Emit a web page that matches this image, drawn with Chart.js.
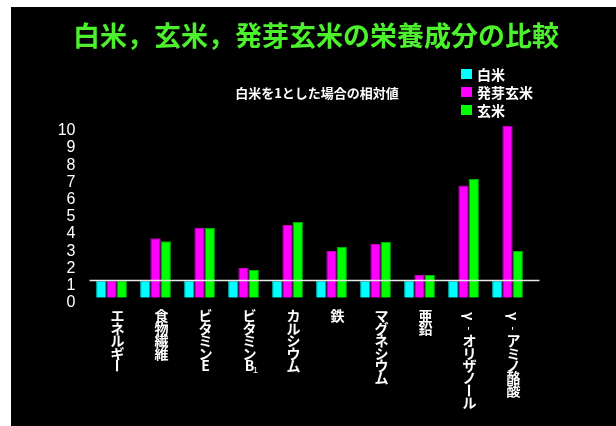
<!DOCTYPE html>
<html lang="ja">
<head>
<meta charset="UTF-8" />
<title>白米，玄米，発芽玄米の栄養成分の比較</title>
<style>
  html, body { margin: 0; padding: 0; background: #fff; }
  .wrap {
    position: absolute;
    left: 11px; top: 7px;
    width: 605px; height: 419px;
    background: #000;
  }
</style>
</head>
<body>
<div class="wrap">
  <canvas id="riceChart" width="605" height="419"></canvas>
</div>

<script src="https://cdn.jsdelivr.net/npm/chart.js"></script>
<script>
  // categories and values (白米 = 1)
  const categories = ['エネルギー', '食物繊維', 'ビタミンE', 'ビタミンB₁', 'カルシウム', '鉄', 'マグネシウム', '亜鉛', 'γ-オリザノール', 'γ-アミノ酪酸'];
  const hakumai   = [1, 1, 1, 1, 1, 1, 1, 1, 1, 1];
  const hatsuga   = [1, 3.45, 4.05, 1.73, 4.23, 2.72, 3.12, 1.32, 6.53, 10.0];
  const genmai    = [1, 3.28, 4.05, 1.61, 4.40, 2.95, 3.24, 1.32, 6.90, 2.72];
  const yTicks    = [0, 1, 2, 3, 4, 5, 6, 7, 8, 9, 10];

  const titleText = '白米，玄米，発芽玄米の栄養成分の比較';
  const subText = '白米を1とした場合の相対値';
  const jpFont = '"Noto Sans CJK JP", "Noto Sans", sans-serif';

  // title + note text, placed like the slide
  const headings = {
    id: 'headings',
    afterDraw(chart) {
      const { ctx } = chart;
      ctx.save();
      ctx.textAlign = 'center';
      ctx.textBaseline = 'middle';
      ctx.fillStyle = '#4cf02c';
      ctx.font = 'bold 27px ' + jpFont;
      ctx.fillText(titleText, 305, 29);
      ctx.fillStyle = '#fff';
      ctx.font = 'bold 13px ' + jpFont;
      ctx.fillText(subText, 306, 86);
      ctx.restore();
    }
  };

  // horizontal white line at the 白米 = 1 level
  const baseLine = {
    id: 'baseLine',
    afterDatasetsDraw(chart) {
      const { ctx, chartArea } = chart;
      const y = chart.scales.y.getPixelForValue(1);
      ctx.save();
      ctx.strokeStyle = '#e8e8e8';
      ctx.lineWidth = 1.5;
      ctx.beginPath();
      ctx.moveTo(chartArea.left, y);
      ctx.lineTo(chartArea.right + 10, y);
      ctx.stroke();
      ctx.restore();
    }
  };

  // stacked (vertical) category labels
  const verticalLabels = {
    id: 'verticalLabels',
    afterDraw(chart) {
      const { ctx } = chart;
      const xs = chart.scales.x;
      ctx.save();
      ctx.fillStyle = '#fff';
      ctx.textAlign = 'center';
      ctx.textBaseline = 'middle';
      chart.data.labels.forEach((label, i) => {
        const cx = xs.getPixelForValue(i) + 6;
        let cy = 309;
        let prevY = cy;
        for (const ch of label) {
          if (ch === '₁') {
            ctx.font = '9px "Liberation Sans", sans-serif';
            ctx.fillText('1', cx + 6, prevY + 5);
            continue;
          }
          ctx.font = 'bold 14px ' + jpFont;
          if (ch === 'ー' || ch === '-' || ch === 'γ') {
            ctx.save();
            ctx.translate(cx, cy);
            ctx.rotate(Math.PI / 2);
            if (ch === '-') ctx.font = 'bold 10px ' + jpFont;
            ctx.fillText(ch, 0, 0);
            ctx.restore();
          } else {
            ctx.fillText(ch, cx, cy);
          }
          prevY = cy;
          cy += 12.4;
        }
      });
      ctx.restore();
    }
  };

  // legend box on the upper right
  const sideLegend = {
    id: 'sideLegend',
    afterDraw(chart) {
      const { ctx } = chart;
      ctx.save();
      ctx.textBaseline = 'middle';
      ctx.textAlign = 'left';
      ctx.font = 'bold 14px ' + jpFont;
      chart.data.datasets.forEach((ds, i) => {
        const y = 67 + i * 18;
        ctx.fillStyle = ds.backgroundColor;
        ctx.fillRect(450, y - 5, 11, 10);
        ctx.fillStyle = '#fff';
        ctx.fillText(ds.label, 466, y + 1);
      });
      ctx.restore();
    }
  };

  const ctx = document.getElementById('riceChart').getContext('2d');
  new Chart(ctx, {
    type: 'bar',
    data: {
      labels: categories,
      datasets: [
        { label: '白米', data: hakumai, backgroundColor: '#00ffff', borderColor: '#00b8b8' },
        { label: '発芽玄米', data: hatsuga, backgroundColor: '#ff00ff', borderColor: '#c000c0' },
        { label: '玄米', data: genmai, backgroundColor: '#00ff00', borderColor: '#00b000' }
      ]
    },
    options: {
      responsive: false,
      animation: false,
      layout: { padding: { left: 0, right: 86.5, top: 118.7, bottom: 128.3 } },
      datasets: {
        bar: { categoryPercentage: 0.7, barPercentage: 1.0, borderWidth: 1 }
      },
      scales: {
        x: { display: false },
        y: {
          min: 0,
          max: 10,
          afterFit(scale) { scale.width = 78.5; },
          afterBuildTicks(scale) { scale.ticks = yTicks.map(v => ({ value: v })); },
          grid: { display: false, drawTicks: false },
          border: { display: false },
          ticks: {
            color: '#fff',
            padding: 14,
            labelOffset: 5,
            autoSkip: false,
            font: { family: '"Liberation Sans", sans-serif', size: 16 }
          }
        }
      },
      plugins: {
        legend: { display: false },
        tooltip: { enabled: false }
      }
    },
    plugins: [headings, baseLine, verticalLabels, sideLegend]
  });
</script>
</body>
</html>
